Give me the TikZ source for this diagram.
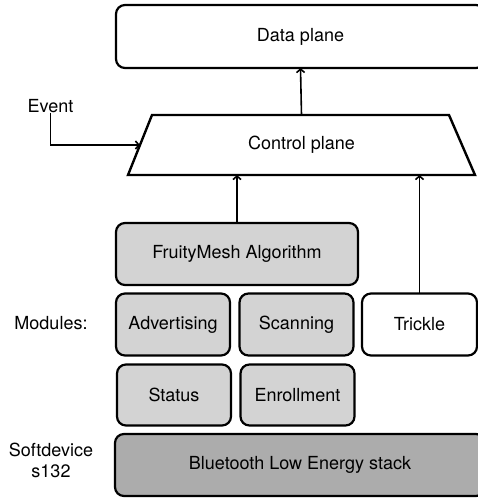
\documentclass[tikz,border=0pt]{standalone}
\usepackage{fontspec}
\setmainfont{TeX Gyre Heros}
\usetikzlibrary{arrows.meta}
\definecolor{modfill}{RGB}{211,211,211}
\definecolor{stackfill}{RGB}{172,172,172}
\begin{document}
\begin{tikzpicture}[x=1pt,y=-1pt,
  every node/.style={font=\fontsize{18}{21}\selectfont, inner sep=0pt, outer sep=0pt},
  block/.style={draw, line width=2.2pt, rounded corners=9pt, minimum height=62pt},
  modbox/.style={block, fill=modfill, minimum width=114pt},
  flow/.style={line width=1.6pt, -{Straight Barb[length=3.5pt,width=8pt]}},
  sidetext/.style={align=center}]
  \useasboundingbox (0,0) rectangle (478,498);
  \clip (0,0) rectangle (478,498);

  % planes
  \node[block, minimum width=369pt, minimum height=63pt] (data) at (300.5,36.5) {Data plane};

  % control plane: trapezoid, narrow side on top
  \coordinate (ctl) at (152,115);
  \coordinate (ctr) at (449,115);
  \coordinate (cbr) at (475,175);
  \coordinate (cbl) at (128,175);
  \draw[line width=2.4pt, line join=miter] (ctl) -- (ctr) -- (cbr) -- (cbl) -- cycle;
  \path (ctl) -- (cbl) coordinate[pos=0.5] (ctrlin);
  \node[minimum width=347pt, minimum height=60pt] (ctrl) at (301.5,145) {Control plane};

  \node (event) at (50.5,106) {Event};

  % algorithm and modules
  \node[block, fill=modfill, minimum width=242pt] (fm) at (237,254) {FruityMesh Algorithm};
  \node[modbox] (adv) at (173,324.5) {Advertising};
  \node[modbox] (scan) at (296.5,324.5) {Scanning};
  \node[block, fill=white, minimum width=115pt] (trickle) at (419.5,324.5) {Trickle};
  \node[modbox, minimum height=61pt] (status) at (174,395) {Status};
  \node[modbox, minimum height=61pt] (enroll) at (297.5,395) {Enrollment};
  \node[sidetext] (modules) at (51,323) {Modules:};

  % softdevice
  \node[block, fill=stackfill, minimum width=370pt] (ble) at (300,465) {Bluetooth Low Energy stack};
  \node[sidetext] (soft) at (51,460.5) {Softdevice\\s132};

  % connectors
  \draw[flow] (ctrl.north) -- (data.south);
  \draw[flow] (fm.north) -- (fm.north |- ctrl.south);
  \draw[flow] (trickle.north) -- (trickle.north |- ctrl.south);
  \draw[flow] (event.south) |- (ctrlin);
\end{tikzpicture}
\end{document}
